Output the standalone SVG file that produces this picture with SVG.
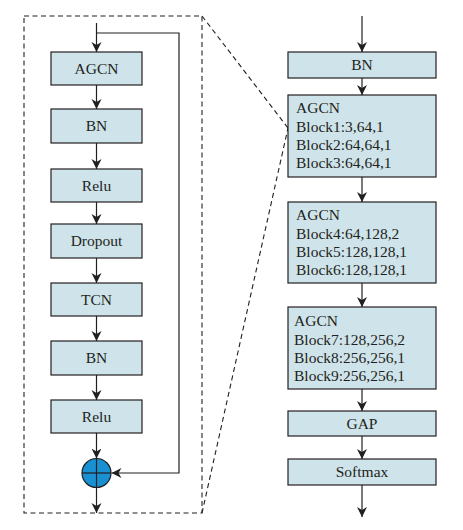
<svg xmlns="http://www.w3.org/2000/svg" width="463" height="530" viewBox="0 0 463 530">
<style>
.box{fill:#cfe3ea;stroke:#231f20;stroke-width:1.2}
.ln{fill:none;stroke:#231f20;stroke-width:1.2}
.dash{fill:none;stroke:#231f20;stroke-width:1.1;stroke-dasharray:5,3.5}
text{font-family:"Liberation Serif","Times New Roman",serif;font-size:15.5px;fill:#231f20}
.c{text-anchor:middle}
</style>
<defs>
<marker id="ah" markerWidth="10" markerHeight="12" refX="10" refY="5" orient="auto" markerUnits="userSpaceOnUse" viewBox="0 0 10 10">
<path d="M0,0 L10,5 L0,10 L3,5 Z" fill="#231f20"/>
</marker>
</defs>
<g id="frame">
<rect x="24" y="16" width="178" height="497" class="dash"/>
<line x1="202" y1="16" x2="288" y2="128" class="dash"/>
<line x1="202" y1="513" x2="288" y2="128" class="dash"/>
</g>
<g id="connectors">
<line x1="96.5" y1="23" x2="96.5" y2="52" class="ln" marker-end="url(#ah)"/>
<polyline points="96.5,33 179,33 179,473 111.5,473" class="ln" marker-end="url(#ah)"/>
<line x1="96.5" y1="85" x2="96.5" y2="109" class="ln" marker-end="url(#ah)"/>
<line x1="96.5" y1="143" x2="96.5" y2="169" class="ln" marker-end="url(#ah)"/>
<line x1="96.5" y1="202" x2="96.5" y2="224" class="ln" marker-end="url(#ah)"/>
<line x1="96.5" y1="258" x2="96.5" y2="283" class="ln" marker-end="url(#ah)"/>
<line x1="96.5" y1="316" x2="96.5" y2="341" class="ln" marker-end="url(#ah)"/>
<line x1="96.5" y1="375" x2="96.5" y2="400" class="ln" marker-end="url(#ah)"/>
<line x1="96.5" y1="433" x2="96.5" y2="458.5" class="ln" marker-end="url(#ah)"/>
<line x1="96.5" y1="487.5" x2="96.5" y2="513" class="ln" marker-end="url(#ah)"/>
<line x1="362" y1="16" x2="362" y2="52" class="ln" marker-end="url(#ah)"/>
<line x1="362" y1="78" x2="362" y2="95" class="ln" marker-end="url(#ah)"/>
<line x1="362" y1="177" x2="362" y2="202" class="ln" marker-end="url(#ah)"/>
<line x1="362" y1="283" x2="362" y2="307" class="ln" marker-end="url(#ah)"/>
<line x1="362" y1="389" x2="362" y2="411" class="ln" marker-end="url(#ah)"/>
<line x1="362" y1="436" x2="362" y2="459" class="ln" marker-end="url(#ah)"/>
<line x1="362" y1="485" x2="362" y2="517" class="ln" marker-end="url(#ah)"/>
</g>
<g id="l-agcn"><rect x="51" y="52" width="91" height="33" class="box"/><text x="96.5" y="74" class="c">AGCN</text></g>
<g id="l-bn1"><rect x="51" y="109" width="91" height="34" class="box"/><text x="96.5" y="131" class="c">BN</text></g>
<g id="l-relu1"><rect x="51" y="169" width="91" height="33" class="box"/><text x="96.5" y="191" class="c">Relu</text></g>
<g id="l-dropout"><rect x="51" y="224" width="91" height="34" class="box"/><text x="96.5" y="246" class="c">Dropout</text></g>
<g id="l-tcn"><rect x="51" y="283" width="91" height="33" class="box"/><text x="96.5" y="305" class="c">TCN</text></g>
<g id="l-bn2"><rect x="51" y="341" width="91" height="34" class="box"/><text x="96.5" y="363" class="c">BN</text></g>
<g id="l-relu2"><rect x="51" y="400" width="91" height="33" class="box"/><text x="96.5" y="422" class="c">Relu</text></g>
<g id="l-add">
<circle cx="96.5" cy="473" r="14.5" fill="#1890d2" stroke="#231f20" stroke-width="1.2"/>
<line x1="82" y1="473" x2="111" y2="473" class="ln"/>
<line x1="96.5" y1="458.5" x2="96.5" y2="487.5" class="ln"/>
</g>
<g id="r-bn"><rect x="288" y="52" width="148" height="26" class="box"/><text x="362" y="70" class="c">BN</text></g>
<g id="r-agcn1"><rect x="288" y="95" width="148" height="82" class="box"/>
<text x="296" y="113">AGCN</text><text x="296" y="132">Block1:3,64,1</text><text x="296" y="150">Block2:64,64,1</text><text x="296" y="168">Block3:64,64,1</text></g>
<g id="r-agcn2"><rect x="288" y="202" width="148" height="81" class="box"/>
<text x="296" y="220">AGCN</text><text x="296" y="239">Block4:64,128,2</text><text x="296" y="257">Block5:128,128,1</text><text x="296" y="275">Block6:128,128,1</text></g>
<g id="r-agcn3"><rect x="288" y="307" width="148" height="82" class="box"/>
<text x="294" y="326">AGCN</text><text x="294" y="345">Block7:128,256,2</text><text x="294" y="363">Block8:256,256,1</text><text x="294" y="381">Block9:256,256,1</text></g>
<g id="r-gap"><rect x="288" y="411" width="148" height="25" class="box"/><text x="362" y="429" class="c">GAP</text></g>
<g id="r-softmax"><rect x="288" y="459" width="148" height="26" class="box"/><text x="362" y="477" class="c">Softmax</text></g>
</svg>
